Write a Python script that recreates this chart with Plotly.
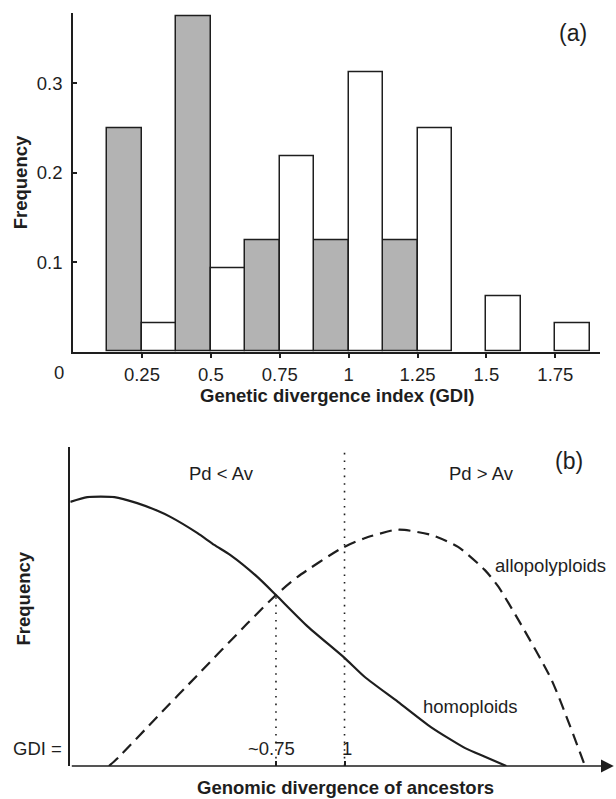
import plotly.graph_objects as go

# ---------------- Data ----------------
# Panel (a): histogram of GDI (bin width 0.125)
homo_bin_centers = [0.1875, 0.4375, 0.6875, 0.9375, 1.1875]
homo_freq = [0.25, 0.375, 0.125, 0.125, 0.125]
allo_bin_centers = [0.3125, 0.5625, 0.8125, 1.0625, 1.3125, 1.5625, 1.8125]
allo_freq = [0.03125, 0.09375, 0.21875, 0.3125, 0.25, 0.0625, 0.03125]
bin_width = 0.125
a_xtick_vals = [0.25, 0.5, 0.75, 1.0, 1.25, 1.5, 1.75]
a_xtick_text = ["0.25", "0.5", "0.75", "1", "1.25", "1.5", "1.75"]
a_ytick_vals = [0.1, 0.2, 0.3]
a_ytick_text = ["0.1", "0.2", "0.3"]

# Panel (b): schematic frequency curves vs genomic divergence
homo_x = [0.0, 0.062, 0.161, 0.244, 0.318, 0.365, 0.464, 0.525, 0.584, 0.683,
          0.75, 0.866, 1.0, 1.074, 1.195, 1.315, 1.44, 1.512, 1.59]
homo_y = [0.828, 0.843, 0.843, 0.824, 0.800, 0.781, 0.730, 0.693, 0.661, 0.592,
          0.536, 0.437, 0.339, 0.279, 0.201, 0.122, 0.056, 0.029, 0.0]
allo_x = [0.141, 0.178, 0.318, 0.464, 0.647, 0.75, 0.829, 0.988, 1.073, 1.183,
          1.219, 1.317, 1.414, 1.512, 1.561, 1.634, 1.755, 1.877]
allo_y = [0.0, 0.029, 0.155, 0.285, 0.448, 0.536, 0.593, 0.682, 0.714, 0.740,
          0.740, 0.724, 0.687, 0.614, 0.562, 0.458, 0.270, 0.0]
cross_gdi = 0.75
cross_freq = 0.536
threshold_gdi = 1.0
b_tick_vals = [0.75, 1.0]

W, H = 616, 799
FONT = "Liberation Sans, Arial, sans-serif"
INK = "#1e1e1e"
TS = 18.5  # text size

def px(x):
    return x / W

def py(y):
    return 1 - y / H

fig = go.Figure()

# ---------- Panel (a) bars ----------
fig.add_trace(go.Bar(
    x=homo_bin_centers, y=homo_freq, width=bin_width,
    marker=dict(color="#b3b3b3", line=dict(color=INK, width=1.5)),
    xaxis="x", yaxis="y", showlegend=False))
fig.add_trace(go.Bar(
    x=allo_bin_centers, y=allo_freq, width=bin_width,
    marker=dict(color="white", line=dict(color=INK, width=1.5)),
    xaxis="x", yaxis="y", showlegend=False))

# ---------- Panel (b) curves ----------
fig.add_trace(go.Scatter(
    x=homo_x, y=homo_y, mode="lines",
    line=dict(color=INK, width=2.2, shape="spline", smoothing=0.6),
    xaxis="x2", yaxis="y2", showlegend=False, cliponaxis=False))
fig.add_trace(go.Scatter(
    x=allo_x, y=allo_y, mode="lines",
    line=dict(color=INK, width=2.2, dash="12px,7px", shape="spline", smoothing=0.6),
    xaxis="x2", yaxis="y2", showlegend=False, cliponaxis=False))
# dotted verticals
fig.add_trace(go.Scatter(
    x=[cross_gdi, cross_gdi], y=[0, cross_freq], mode="lines",
    line=dict(color=INK, width=1.6, dash="1.6px,6px"),
    xaxis="x2", yaxis="y2", showlegend=False))
fig.add_trace(go.Scatter(
    x=[threshold_gdi, threshold_gdi], y=[0, 1.0], mode="lines",
    line=dict(color=INK, width=1.6, dash="1.6px,6px"),
    xaxis="x2", yaxis="y2", showlegend=False))

# ---------- Layout ----------
axis_common = dict(showgrid=False, zeroline=False, linecolor=INK, linewidth=1.5,
                   tickcolor=INK, tickwidth=1.5,
                   tickfont=dict(family=FONT, size=TS, color=INK))

xb_range = [0.0, 1.99]

fig.update_layout(
    width=W, height=H,
    margin=dict(l=0, r=0, t=0, b=0),
    paper_bgcolor="white", plot_bgcolor="white",
    barmode="overlay", bargap=0,
    xaxis=dict(axis_common, domain=[px(73), px(600)], range=[0, 1.912],
               showline=True, ticks="outside", ticklen=5,
               tickvals=a_xtick_vals, ticktext=a_xtick_text,
               anchor="y", ticklabelstandoff=0),
    yaxis=dict(axis_common, domain=[py(351.7), py(13.3)], range=[0, 0.3785],
               showline=True, ticks="inside", ticklen=4,
               tickvals=a_ytick_vals, ticktext=a_ytick_text,
               anchor="x", ticklabelstandoff=5),
    xaxis2=dict(axis_common, domain=[px(70.3), 1.0], range=xb_range,
                showline=False, ticks="inside", ticklen=5,
                tickvals=b_tick_vals, showticklabels=False, anchor="y2"),
    yaxis2=dict(axis_common, domain=[py(766), py(447)], range=[0, 1.0],
                showline=True, ticks="", showticklabels=False, anchor="x2"),
)

def txt(x, y, s, size=TS, bold=False, angle=0):
    fig.add_annotation(x=x, y=y, xref="paper", yref="paper",
                       text=("<b>%s</b>" % s) if bold else s,
                       showarrow=False, xanchor="center", yanchor="middle",
                       textangle=angle,
                       font=dict(family=FONT, size=size, color=INK))

# Panel (a) texts
txt(px(59.3), py(373), "0")
txt(px(337), py(396), "Genetic divergence index (GDI)", bold=True)
txt(px(20.8), py(182.5), "Frequency", bold=True, angle=-90)
txt(px(572.5), py(33), "(a)", size=23)

# Panel (b) texts
txt(px(221.7), py(473.3), "Pd &lt; Av")
txt(px(481.7), py(473.3), "Pd &gt; Av")
txt(px(569), py(460.8), "(b)", size=23)
txt(px(550), py(565), "allopolyploids")
txt(px(470), py(706.7), "homoploids")
txt(px(37.5), py(748.3), "GDI =")
txt(px(271.7), py(748.3), "~0.75")
txt(px(346.7), py(748.3), "1")
txt(px(345.8), py(787), "Genomic divergence of ancestors", bold=True)
txt(px(22.5), py(599), "Frequency", bold=True, angle=-90)

# x-axis arrow of panel (b)
fig.add_annotation(x=1.982, y=0, ax=xb_range[0], ay=0,
                   xref="x2", yref="y2", axref="x2", ayref="y2",
                   text="", showarrow=True, arrowhead=2, arrowsize=1.6,
                   arrowwidth=1.6, arrowcolor=INK, standoff=0)

fig.write_html("out.html", config={"displayModeBar": False},
               post_script="document.body.style.margin='0';document.body.style.padding='0';")
